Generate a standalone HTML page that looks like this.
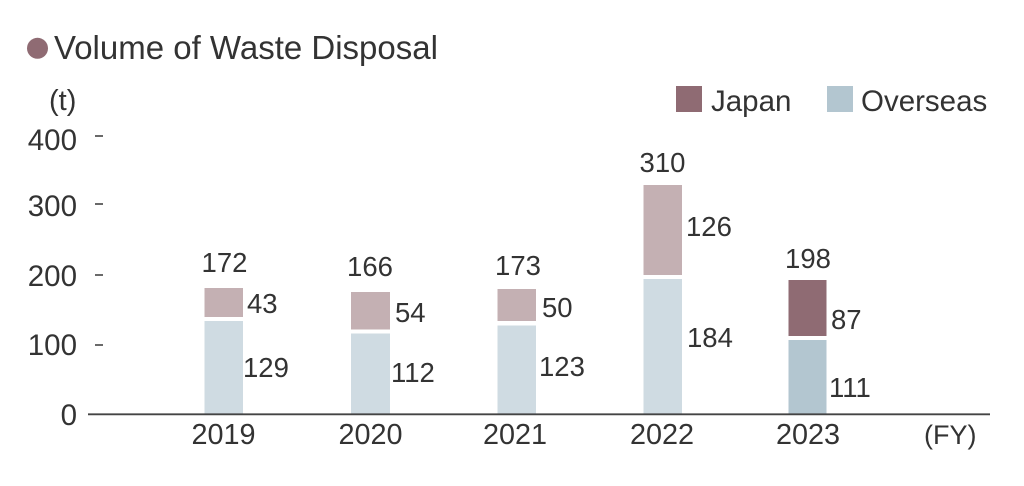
<!DOCTYPE html>
<html>
<head>
<meta charset="utf-8">
<style>
  html, body { margin:0; padding:0; background:#ffffff; }
  body { width:1024px; height:486px; overflow:hidden; }
  svg { display:block; }
  text { font-family: "Liberation Sans", Arial, sans-serif; fill:#333333; }
</style>
</head>
<body>
<svg width="1024" height="486" viewBox="0 0 1024 486" xmlns="http://www.w3.org/2000/svg">
  <rect width="1024" height="486" fill="#ffffff"/>

  <!-- Title -->
  <circle cx="37.5" cy="48.3" r="10.5" fill="#8f6b73"/>
  <text x="54" y="59" font-size="33">Volume of Waste Disposal</text>

  <!-- Unit -->
  <text x="49" y="110" font-size="29">(t)</text>

  <!-- Legend -->
  <rect x="676" y="86" width="26" height="26" fill="#8f6b73"/>
  <text x="711" y="111" font-size="29.5">Japan</text>
  <rect x="827" y="86" width="26" height="26" fill="#b3c6d0"/>
  <text x="861" y="111" font-size="29.5">Overseas</text>

  <!-- Y tick labels -->
  <g font-size="29.5" text-anchor="end">
    <text x="77" y="150">400</text>
    <text x="77" y="216">300</text>
    <text x="77" y="286">200</text>
    <text x="77" y="355">100</text>
    <text x="77" y="425">0</text>
  </g>
  <!-- Y ticks -->
  <g stroke="#444" stroke-width="1.6">
    <line x1="95" y1="136" x2="103" y2="136"/>
    <line x1="95" y1="204" x2="103" y2="204"/>
    <line x1="95" y1="275" x2="103" y2="275"/>
    <line x1="95" y1="345" x2="103" y2="345"/>
  </g>

  <!-- Bars -->
  <!-- 2019 -->
  <rect x="204.5" y="288" width="38.5" height="29" fill="#c4b0b3"/>
  <rect x="204.5" y="321" width="38.5" height="92.5" fill="#cfdbe2"/>
  <!-- 2020 -->
  <rect x="351" y="292" width="39" height="37.5" fill="#c4b0b3"/>
  <rect x="351" y="333.5" width="39" height="80" fill="#cfdbe2"/>
  <!-- 2021 -->
  <rect x="497.5" y="289" width="38.5" height="32" fill="#c4b0b3"/>
  <rect x="497.5" y="325.5" width="38.5" height="88" fill="#cfdbe2"/>
  <!-- 2022 -->
  <rect x="643.5" y="185" width="38.5" height="90" fill="#c4b0b3"/>
  <rect x="643.5" y="279" width="38.5" height="134.5" fill="#cfdbe2"/>
  <!-- 2023 -->
  <rect x="788.5" y="280" width="38" height="56" fill="#8f6b73"/>
  <rect x="788.5" y="340" width="38" height="73.5" fill="#b3c6d0"/>

  <!-- Axis -->
  <line x1="88" y1="414.3" x2="990" y2="414.3" stroke="#444" stroke-width="1.8"/>

  <!-- Totals -->
  <g font-size="27.5" text-anchor="middle">
    <text x="224.5" y="272">172</text>
    <text x="370" y="276">166</text>
    <text x="518" y="275">173</text>
    <text x="662.5" y="172">310</text>
    <text x="808" y="268">198</text>
  </g>

  <!-- Segment labels -->
  <g font-size="27.5">
    <text x="247" y="313">43</text>
    <text x="243" y="377">129</text>
    <text x="395" y="322">54</text>
    <text x="391" y="382">112</text>
    <text x="542" y="317">50</text>
    <text x="539" y="376">123</text>
    <text x="686" y="236">126</text>
    <text x="687" y="347">184</text>
    <text x="831" y="329">87</text>
    <text x="829" y="397">111</text>
  </g>

  <!-- X labels -->
  <g font-size="28.8" text-anchor="middle">
    <text x="223.5" y="444">2019</text>
    <text x="370.5" y="444">2020</text>
    <text x="515" y="444">2021</text>
    <text x="662" y="444">2022</text>
    <text x="808" y="444">2023</text>
  </g>
  <text x="924" y="444" font-size="27">(FY)</text>
</svg>
</body>
</html>
